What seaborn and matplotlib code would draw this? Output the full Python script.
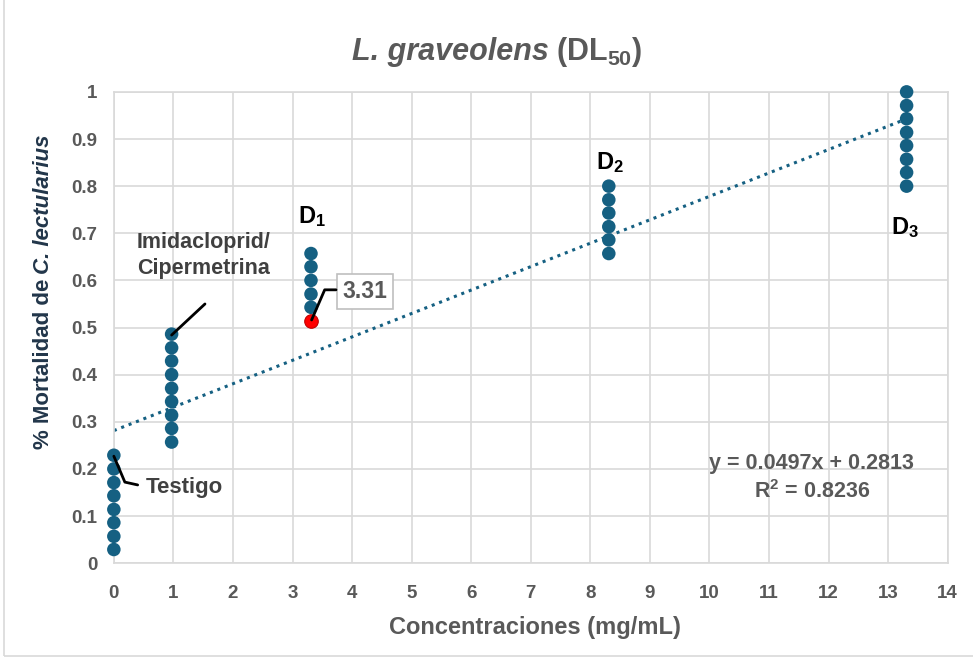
import numpy as np
import pandas as pd
import matplotlib
matplotlib.use("Agg")
import matplotlib.pyplot as plt
import matplotlib.transforms as mtransforms
import seaborn as sns
from matplotlib.patches import Rectangle

# concentrations (mg/mL) of each group
conc_testigo = 0
conc_imid = 0.97
conc_d1 = 3.31
conc_d2 = 8.31
conc_d3 = 13.31

# mortality values
testigo_y = [0.029, 0.057, 0.086, 0.114, 0.143, 0.171, 0.2, 0.229]
imid_y = [0.257, 0.286, 0.314, 0.343, 0.371, 0.4, 0.429, 0.457, 0.486]
d1_y = [0.543, 0.571, 0.6, 0.629, 0.657]
d2_y = [0.657, 0.686, 0.714, 0.743, 0.771, 0.8]
d3_y = [0.8, 0.829, 0.857, 0.886, 0.914, 0.943, 0.971, 1.0]
dl50_x = [3.31]
dl50_y = [0.514]

# linear trend from the chart
slope = 0.0497
intercept = 0.2813

BLUE = "#156082"
GREY = "#595959"
GRID = "#D9D9D9"

sns.set_style("white")
plt.rcParams["font.family"] = ["Liberation Sans", "DejaVu Sans"]
plt.rcParams["mathtext.fontset"] = "custom"
plt.rcParams["mathtext.rm"] = "Liberation Sans"
plt.rcParams["mathtext.bf"] = "Liberation Sans:bold"


def chain_text(fig, x, y, parts, rotation=0, gap=0):
    """place text pieces one after another (pixel coords), centred on x (or y if rotated)"""
    r = fig.canvas.get_renderer()
    tr = mtransforms.IdentityTransform()
    objs = [fig.text(0, 0, s, rotation=rotation, rotation_mode="anchor",
                     ha="left", va="baseline", transform=tr, **kw) for s, kw in parts]
    lens = []
    for t in objs:
        bb = t.get_window_extent(r)
        lens.append(bb.height if rotation else bb.width)
    total = sum(lens) + gap * (len(objs) - 1)
    pos = (y if rotation else x) - total / 2
    for t, L in zip(objs, lens):
        t.set_position((x, pos) if rotation else (pos, y))
        pos += L + gap


rows = []
for xv, ys in [(conc_testigo, testigo_y), (conc_imid, imid_y), (conc_d1, d1_y),
               (conc_d2, d2_y), (conc_d3, d3_y)]:
    for yv in ys:
        rows.append((xv, yv))
df = pd.DataFrame(rows, columns=["conc", "mort"])
df_red = pd.DataFrame({"conc": dl50_x, "mort": dl50_y})

fig = plt.figure(figsize=(9.73, 6.61), dpi=100)
ax = fig.add_axes([0.117, 0.148, 0.857, 0.713])

# trendline (dotted)
tx = np.array([0, conc_d3])
ax.plot(tx, slope * tx + intercept, linestyle=(0, (1, 1.6)), color=BLUE, lw=2.2, zorder=2)

sns.scatterplot(data=df, x="conc", y="mort", ax=ax, color=BLUE, s=95,
                edgecolor="none", zorder=3, clip_on=False)
sns.scatterplot(data=df_red, x="conc", y="mort", ax=ax, color="#FF0000", s=95,
                edgecolor="#C00000", linewidth=0.8, zorder=4, clip_on=False)

ax.set_xlim(0, 14)
ax.set_ylim(0, 1)
ax.set_xticks(range(0, 15))
ax.set_yticks(np.arange(0, 1.01, 0.1))
ax.set_yticklabels(["0", "0.1", "0.2", "0.3", "0.4", "0.5", "0.6", "0.7", "0.8", "0.9", "1"])
ax.grid(True, color=GRID, lw=1.2)
ax.set_axisbelow(True)
for sp in ax.spines.values():
    sp.set_color(GRID)
    sp.set_linewidth(1.2)
ax.tick_params(axis="both", length=0, labelsize=13.5, labelcolor=GREY)
ax.tick_params(axis="x", pad=16)
ax.tick_params(axis="y", pad=12)
for lab in ax.get_xticklabels() + ax.get_yticklabels():
    lab.set_fontweight("bold")

ax.set_xlabel("")
ax.set_ylabel("")
fig.text(0.55, 0.051, "Concentraciones (mg/mL)", ha="center", va="center",
         fontsize=17, fontweight="bold", color=GREY)

# title and y label with mixed styles
chain_text(fig, 497, 601, [
    ("L. graveolens", dict(fontsize=22, fontweight="bold", fontstyle="italic", color=GREY)),
    (r"($\mathbf{DL_{50}}$)", dict(fontsize=22, fontweight="bold", color=GREY)),
], gap=7)
YCOL = "#22364A"
chain_text(fig, 49, 369, [
    ("% Mortalidad de", dict(fontsize=16, fontweight="bold", color=YCOL)),
    ("C. lectularius", dict(fontsize=16, fontweight="bold", fontstyle="italic", color=YCOL)),
], rotation=90, gap=5)

# callouts
ax.plot([0, 0.185, 0.40], [0.227, 0.172, 0.166], color="black", lw=2, clip_on=False, zorder=5)
ax.text(0.54, 0.161, "Testigo", ha="left", va="center", fontsize=16,
        fontweight="bold", color="#404040")

ax.plot([0.97, 1.53], [0.484, 0.55], color="black", lw=2, zorder=5)
ax.text(1.51, 0.653, "Imidacloprid/\nCipermetrina", ha="center", va="center",
        fontsize=15.5, fontweight="bold", color="#404040", linespacing=1.3)

ax.plot([3.32, 3.54, 3.73], [0.516, 0.58, 0.58], color="black", lw=2, zorder=5)
ax.text(4.22, 0.576, "3.31", ha="center", va="center", fontsize=16.5,
        fontweight="bold", color=GREY,
        bbox=dict(boxstyle="square,pad=0.25", fc="white", ec="#BFBFBF", lw=1.2))

ax.text(3.32, 0.735, r"$\mathbf{D_1}$", ha="center", va="center", fontsize=17, color="black")
ax.text(8.33, 0.851, r"$\mathbf{D_2}$", ha="center", va="center", fontsize=17, color="black")
ax.text(13.28, 0.713, r"$\mathbf{D_3}$", ha="center", va="center", fontsize=17, color="black")

ax.text(11.72, 0.212, "y = 0.0497x + 0.2813", ha="center", va="center", fontsize=15.5,
        fontweight="bold", color=GREY)
ax.text(11.72, 0.151, r"R$^{\mathbf{2}}$ = 0.8236", ha="center", va="center", fontsize=15.5,
        fontweight="bold", color=GREY)

# chart area border
fig.patches.append(Rectangle((0.004, 0.008), 1.2, 1.2, transform=fig.transFigure,
                             fill=False, ec="#D9D9D9", lw=1.2))

fig.savefig("out.png", dpi=100)
